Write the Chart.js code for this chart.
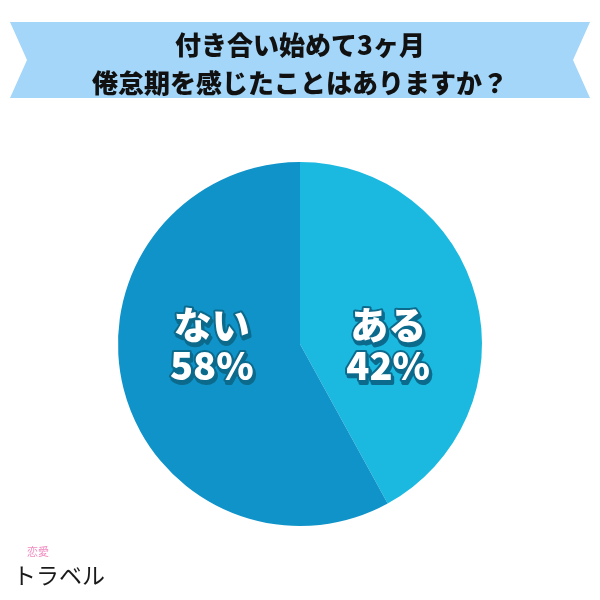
<!DOCTYPE html>
<html>
<head>
<meta charset="utf-8">
<script src="https://cdn.jsdelivr.net/npm/chart.js@4"></script>
<style>
  html, body { margin: 0; padding: 0; background: #fff; }
  #wrap { width: 600px; height: 600px; }
</style>
</head>
<body>
<div id="wrap"><canvas id="pieChart" width="600" height="600"></canvas></div>
<script>
// data
const titleLines = ["付き合い始めて3ヶ月", "倦怠期を感じたことはありますか？"];
const answers = ["ある", "ない"];
const percents = [42, 58];
const sliceColors = ["#1bb9e0", "#0f93c9"];

const FONT = "'Noto Sans CJK JP', 'Noto Sans', sans-serif";

// banner + title + logo
const decoPlugin = {
  id: "deco",
  beforeDraw(chart) {
    const ctx = chart.ctx;
    ctx.save();
    ctx.fillStyle = "#a3d6f8";
    ctx.beginPath();
    ctx.moveTo(10, 22);
    ctx.lineTo(590, 22);
    ctx.lineTo(573, 60);
    ctx.lineTo(590, 98);
    ctx.lineTo(10, 98);
    ctx.lineTo(27, 60);
    ctx.closePath();
    ctx.fill();

    ctx.fillStyle = "#111";
    ctx.textAlign = "center";
    ctx.textBaseline = "middle";
    ctx.font = "900 26px " + FONT;
    ctx.fillText(titleLines[0], 300, 45);
    ctx.fillText(titleLines[1], 300, 83);

    // logo
    ctx.textAlign = "left";
    ctx.fillStyle = "#f08cc0";
    ctx.font = "400 11px " + FONT;
    ctx.fillText("恋愛", 27, 552);
    ctx.fillStyle = "#1a1a1a";
    ctx.font = "400 23px " + FONT;
    ctx.fillText("トラベル", 13, 575);
    ctx.restore();
  },
  afterDatasetsDraw(chart) {
    const ctx = chart.ctx;
    const meta = chart.getDatasetMeta(0);
    const cy = (chart.chartArea.top + chart.chartArea.bottom) / 2;
    ctx.save();
    ctx.textAlign = "center";
    ctx.textBaseline = "middle";
    ctx.font = "900 38px " + FONT;
    ctx.lineJoin = "round";
    meta.data.forEach((arc, i) => {
      const p = arc.tooltipPosition();
      const lines = [answers[i], percents[i] + "%"];
      lines.forEach((t, j) => {
        const y = cy - 19 + j * 41;
        ctx.strokeStyle = "#0c6a8c";
        ctx.lineWidth = 4;
        ctx.strokeText(t, p.x + 1.5, y + 2.5);
        ctx.strokeText(t, p.x, y);
        ctx.fillStyle = "#ffffff";
        ctx.fillText(t, p.x, y);
      });
    });
    ctx.restore();
  }
};

new Chart(document.getElementById("pieChart"), {
  type: "pie",
  data: {
    labels: answers,
    datasets: [{
      data: percents,
      backgroundColor: sliceColors,
      borderWidth: 0
    }]
  },
  options: {
    responsive: false,
    animation: false,
    layout: { padding: { top: 162, bottom: 74, left: 118, right: 118 } },
    plugins: {
      legend: { display: false },
      tooltip: { enabled: false }
    }
  },
  plugins: [decoPlugin]
});
</script>
</body>
</html>
